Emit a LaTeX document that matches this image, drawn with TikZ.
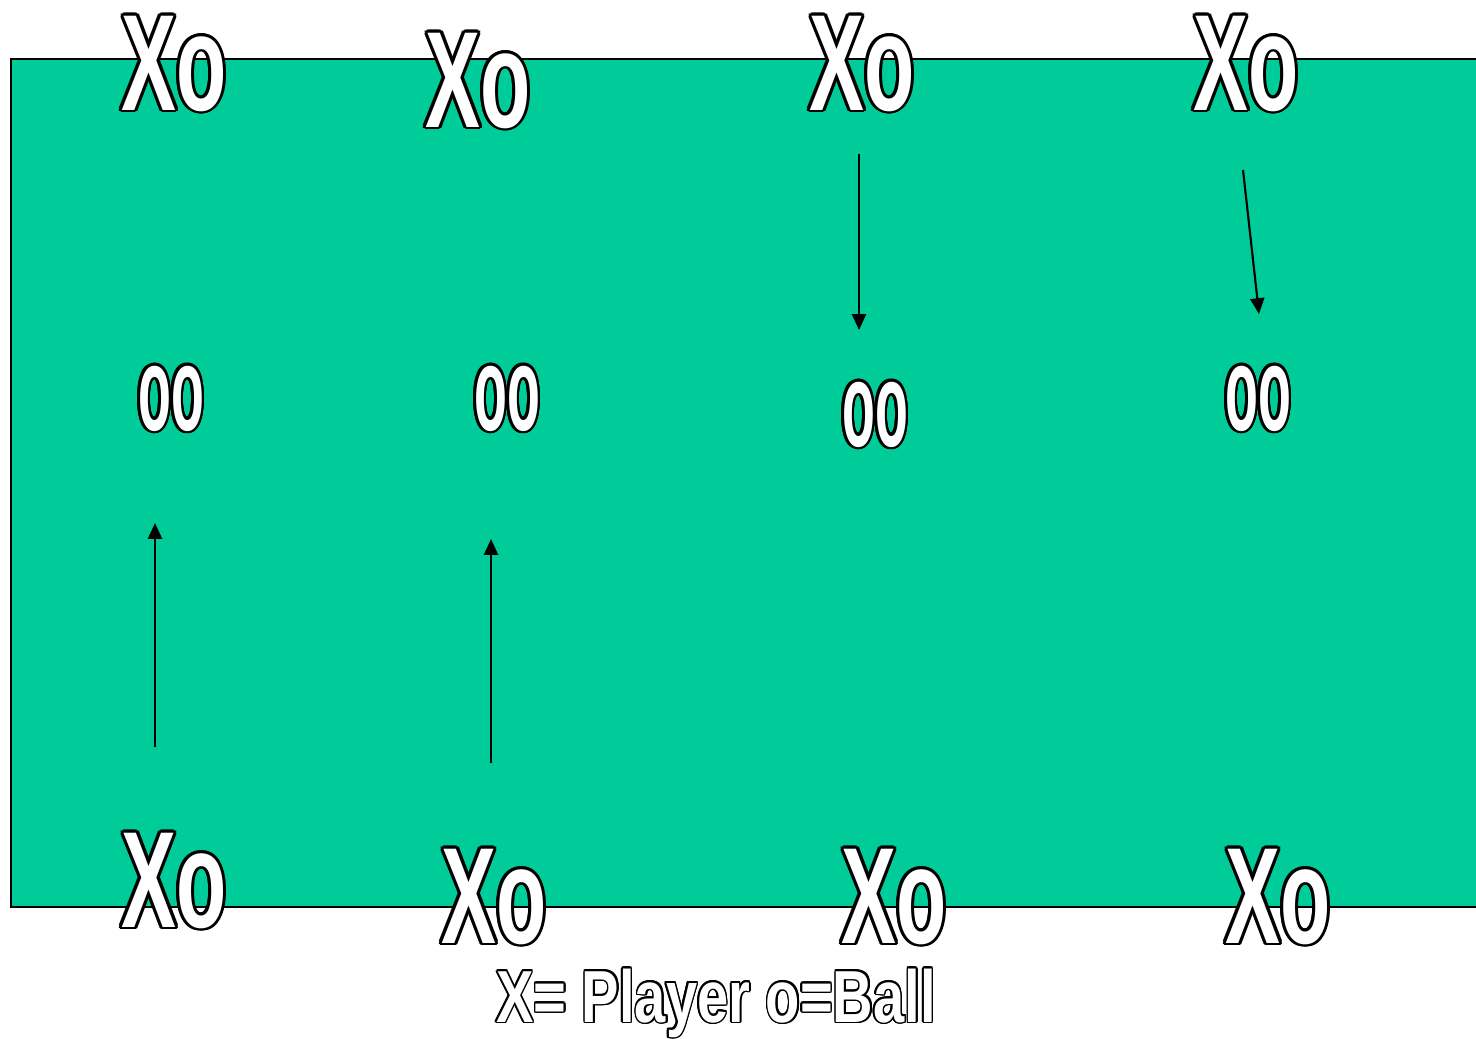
\documentclass[tikz,border=0pt]{standalone}
\usepackage{graphicx}
\usepackage{fontspec}
\setmainfont{Liberation Sans}
\usepackage{contour}
\contourlength{0.8pt}
\usetikzlibrary{arrows.meta}
\definecolor{pitchgreen}{RGB}{0, 204, 153}
\newcommand{\outl}[2]{\textcolor{white}{\contour{black}{\scalebox{#1}[1]{#2}}}}

\begin{document}
\begin{tikzpicture}[
  player/.style={anchor=base, inner sep=0pt, font=\bfseries\fontsize{39}{39}\selectfont},
  ball/.style={anchor=base, inner sep=0pt, font=\bfseries\fontsize{34}{34}\selectfont},
  key/.style={anchor=base, inner sep=0pt, font=\bfseries\fontsize{21}{21}\selectfont},
  run/.style={line width=0.6pt, -{Triangle[width=4pt,length=4.5pt]}}
]
  \useasboundingbox (0,0) rectangle (14.76,10.38);
  \clip (0,0) rectangle (14.76,10.38);
  % pitch
  \fill[pitchgreen] (0.11,1.31) rectangle (15,9.79);
  \draw[line width=0.6pt] (15,9.79) -- (0.11,9.79) -- (0.11,1.31) -- (15,1.31);

  % top line
  \node[player] (top1) at (1.74, 9.28) {\outl{0.6}{Xo}};
  \node[player] (top2) at (4.78, 9.11) {\outl{0.6}{Xo}};
  \node[player] (top3) at (8.62, 9.28) {\outl{0.6}{Xo}};
  \node[player] (top4) at (12.46, 9.28) {\outl{0.6}{Xo}};

  % balls in the middle
  \node[ball] (mid1) at (1.71, 6.08) {\outl{0.45}{oo}};
  \node[ball] (mid2) at (5.07, 6.08) {\outl{0.45}{oo}};
  \node[ball] (mid3) at (8.75, 5.92) {\outl{0.45}{oo}};
  \node[ball] (mid4) at (12.58, 6.08) {\outl{0.45}{oo}};

  % bottom line
  \node[player] (bot1) at (1.74, 1.11) {\outl{0.6}{Xo}};
  \node[player] (bot2) at (4.94, 0.95) {\outl{0.6}{Xo}};
  \node[player] (bot3) at (8.94, 0.95) {\outl{0.6}{Xo}};
  \node[player] (bot4) at (12.78, 0.95) {\outl{0.6}{Xo}};

  \node[key] (legend) at (7.16, 0.16) {\contourlength{0.45pt}\outl{0.76}{X= Player o=Ball}};

  % runs
  \coordinate (r1a) at (1.55, 2.91);  \coordinate (r1b) at (1.55, 5.15);
  \coordinate (r2a) at (4.91, 2.75);  \coordinate (r2b) at (4.91, 4.99);
  \coordinate (r3a) at (8.59, 8.84);  \coordinate (r3b) at (8.59, 7.08);
  \coordinate (r4a) at (12.43, 8.68); \coordinate (r4b) at (12.59, 7.24);
  \draw[run] (r1a) -- (r1b);
  \draw[run] (r2a) -- (r2b);
  \draw[run] (r3a) -- (r3b);
  \draw[run] (r4a) -- (r4b);
\end{tikzpicture}
\end{document}
